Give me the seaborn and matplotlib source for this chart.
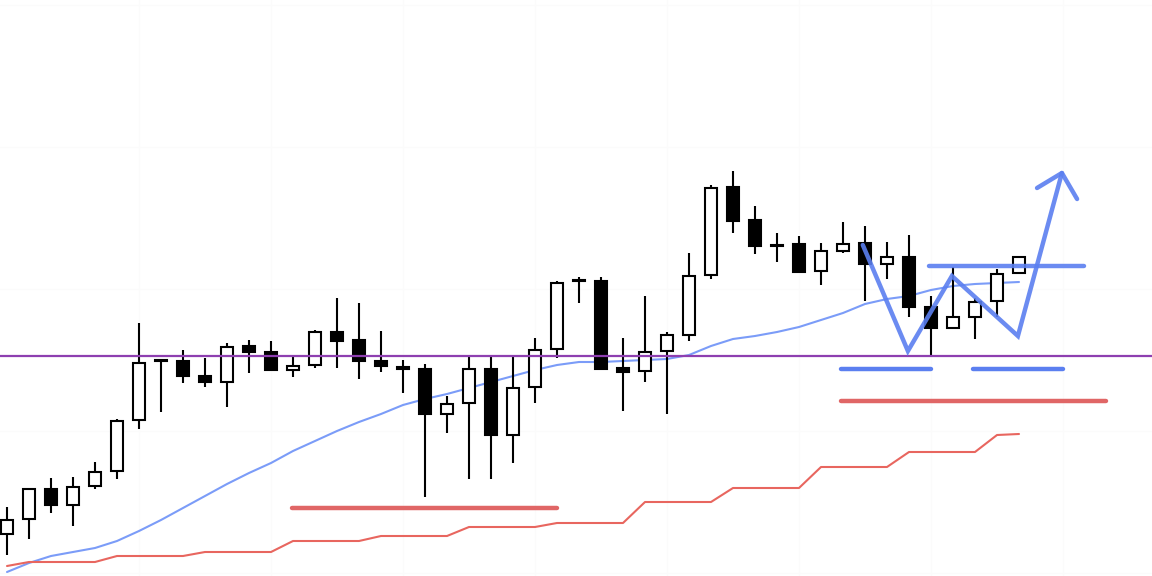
import matplotlib
matplotlib.use("Agg")
import matplotlib.pyplot as plt
import numpy as np
import pandas as pd
import seaborn as sns

# candle data (price units, arbitrary scale)
opens = [42, 57, 87, 71, 90, 105, 156, 215, 215, 200, 194, 230, 224, 206, 211, 244,
         236, 215, 209, 207, 162, 173, 207, 141, 189, 227, 295, 295, 208, 205, 225, 241,
         301, 389, 356, 331, 332, 305, 325, 333, 312, 319, 269, 248, 259, 275, 303]
highs = [69, 87, 98, 99, 114, 157, 253, 216, 226, 218, 233, 236, 235, 219, 246, 278,
         273, 245, 216, 212, 180, 219, 219, 219, 238, 295, 299, 299, 238, 280, 244, 323,
         391, 405, 370, 343, 340, 333, 354, 350, 334, 341, 280, 309, 278, 307, 319]
lows = [21, 37, 63, 50, 87, 97, 147, 164, 193, 189, 169, 203, 206, 199, 208, 208,
        197, 204, 183, 79, 143, 97, 97, 113, 173, 218, 273, 206, 165, 194, 162, 235,
        297, 343, 322, 314, 304, 291, 323, 275, 297, 259, 221, 248, 237, 259, 303]
closes = [56, 87, 71, 89, 104, 155, 213, 216, 200, 194, 229, 224, 206, 210, 244, 235,
          215, 210, 207, 162, 172, 207, 141, 188, 226, 293, 295, 207, 204, 224, 241, 300,
          388, 355, 330, 330, 304, 325, 332, 312, 319, 269, 248, 259, 274, 302, 319]

# moving average and lower step band
ma_values = [4, 13, 20, 24, 28, 35, 45, 56, 68, 80, 92, 103, 113, 125, 135, 145,
             154, 162, 171, 177, 182, 188, 194, 200, 206, 211, 214, 214, 215, 216, 217, 221,
             230, 237, 240, 244, 249, 256, 263, 272, 277, 280, 286, 290, 292, 293, 294]
band_values = [10, 14, 14, 14, 14, 20, 20, 20, 20, 24, 24, 24, 24, 35, 35, 35,
               35, 40, 40, 40, 40, 49, 49, 49, 49, 53, 53, 53, 53, 74, 74, 74,
               74, 88, 88, 88, 88, 109, 109, 109, 109, 124, 124, 124, 124, 141, 142]

# drawn annotations (bar index, price)
level_price = 220.5
support_x = [12.95, 25.0]
support_y = 68
bottom1_x = [37.9, 42.0]
bottom2_x = [43.9, 48.0]
bottoms_y = 207
stop_x = [37.9, 49.95]
stop_y = 175
neck_x = [41.9, 48.95]
neck_y = 310
path_x = [38.9, 40.95, 42.95, 45.95, 47.95]
path_y = [331, 225, 300, 240, 403]
head_x = [46.82, 47.95, 48.64]
head_y = [388, 403, 377]

df = pd.DataFrame({"open": opens, "high": highs, "low": lows, "close": closes,
                   "ma": ma_values, "band": band_values})
df["idx"] = np.arange(len(df))

sns.set_style("white")
fig = plt.figure(figsize=(11.52, 5.76), dpi=100)
ax = fig.add_axes([0, 0, 1, 1])

# very faint grid
for gx in range(6, 52, 6):
    ax.axvline(gx, color="#fbfbfb", lw=0.8, zorder=0)
for gy in [3, 145, 287, 429, 571]:
    ax.axhline(gy, color="#fbfbfb", lw=0.8, zorder=0)

# indicator lines
sns.lineplot(data=df, x="idx", y="ma", ax=ax, color="#7b9cf8", lw=1.5, zorder=2)
sns.lineplot(data=df, x="idx", y="band", ax=ax, color="#e8665f", lw=1.5, zorder=2)

# candles
up = df["close"] >= df["open"]
ax.vlines(df["idx"], df["low"], df["high"], color="black", lw=1.5, zorder=3)
body_bottom = np.minimum(df["open"], df["close"])
body_height = np.maximum(np.abs(df["close"] - df["open"]), 0.6)
ax.bar(df["idx"], body_height, bottom=body_bottom, width=0.56,
       color=np.where(up, "white", "black"), edgecolor="black", linewidth=1.5, zorder=4)

# horizontal level
ax.axhline(level_price, color="#8e3fb0", lw=1.6, zorder=5)

# annotation strokes
ax.plot(support_x, [support_y] * 2, color="#e06666", lw=3.2, solid_capstyle="round", zorder=6)
ax.plot(stop_x, [stop_y] * 2, color="#e06666", lw=3.2, solid_capstyle="round", zorder=6)
ax.plot(bottom1_x, [bottoms_y] * 2, color="#5b7ff0", lw=3.2, solid_capstyle="round", zorder=6)
ax.plot(bottom2_x, [bottoms_y] * 2, color="#5b7ff0", lw=3.2, solid_capstyle="round", zorder=6)
ax.plot(neck_x, [neck_y] * 2, color="#5b7ff0", lw=3.2, alpha=0.9, solid_capstyle="round", zorder=6)
ax.plot(path_x, path_y, color="#5b7ff0", lw=3.2, alpha=0.9, solid_capstyle="round",
        solid_joinstyle="miter", zorder=6)
ax.plot(head_x, head_y, color="#5b7ff0", lw=3.2, alpha=0.9, solid_capstyle="round", zorder=6)

ax.set_xlim(-7 / 22, 1145 / 22)
ax.set_ylim(0, 576)
ax.set_axis_off()
ax.set_xlabel("")
ax.set_ylabel("")

plt.savefig("out.png", dpi=100)
plt.close()
